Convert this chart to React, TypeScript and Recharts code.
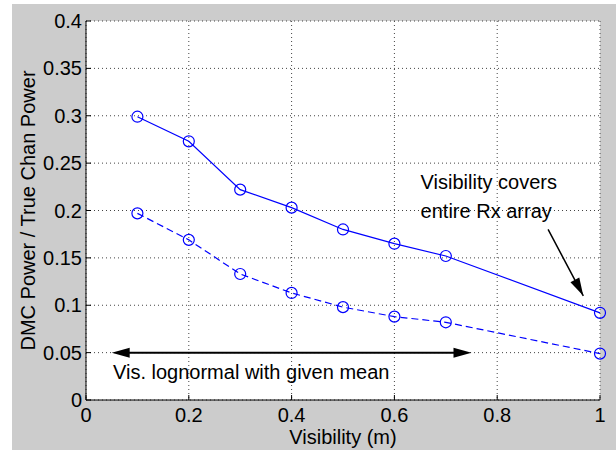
import React from 'react';
import {
  LineChart,
  Line,
  XAxis,
  YAxis,
  CartesianGrid,
  ReferenceLine,
  ReferenceDot
} from 'recharts';

// visibility (m)
const visibility = [0.1, 0.2, 0.3, 0.4, 0.5, 0.6, 0.7, 1.0];
// visibility covers the full Rx array (solid)
const fixedVisPower = [0.299, 0.273, 0.222, 0.203, 0.180, 0.165, 0.152, 0.092];
// visibility lognormal with given mean (dashed)
const lognormalVisPower = [0.197, 0.169, 0.133, 0.113, 0.098, 0.088, 0.082, 0.049];

const xTicks = [0, 0.2, 0.4, 0.6, 0.8, 1];
const yTicks = [0, 0.05, 0.1, 0.15, 0.2, 0.25, 0.3, 0.35, 0.4];

// annotations (data units)
const rangeArrow = [{ x: 0.05, y: 0.05 }, { x: 0.75, y: 0.05 }];
const rangeText = { x: 0.0525, y: 0.03, text: 'Vis. lognormal with given mean' };
const coverArrow = [{ x: 0.899, y: 0.18 }, { x: 0.9675, y: 0.11 }];
const coverText = [
  { x: 0.651, y: 0.2296, text: 'Visibility covers' },
  { x: 0.651, y: 0.1994, text: 'entire Rx array' }
];

const data = visibility.map((v, i) => ({
  v,
  fixed: fixedVisPower[i],
  lognormal: lognormalVisPower[i]
}));

const FONT = '"Liberation Sans", Arial, Helvetica, sans-serif';
const FS = 20;
const BLUE = '#0000ff';
const TICK = 5;

function Circle(props: any) {
  const { cx, cy } = props;
  if (cx == null || cy == null) return null;
  return <circle cx={cx} cy={cy} r={5.5} fill="none" stroke={BLUE} strokeWidth={1.2} />;
}

function LeftTick(props: any) {
  const { x, y, payload } = props;
  return (
    <g>
      <line x1={x} y1={y} x2={x + TICK} y2={y} stroke="#000" />
      <text x={x - 4} y={y} textAnchor="end" dominantBaseline="central"
        fontFamily={FONT} fontSize={FS} fill="#000">{String(payload.value)}</text>
    </g>
  );
}

function RightTick(props: any) {
  const { x, y } = props;
  return <line x1={x} y1={y} x2={x - TICK} y2={y} stroke="#000" />;
}

function BottomTick(props: any) {
  const { x, y, payload } = props;
  return (
    <g>
      <line x1={x} y1={y} x2={x} y2={y - TICK} stroke="#000" />
      <text x={x} y={y + 15} textAnchor="middle" dominantBaseline="central"
        fontFamily={FONT} fontSize={FS} fill="#000">{String(payload.value)}</text>
    </g>
  );
}

function TopTick(props: any) {
  const { x, y } = props;
  return <line x1={x} y1={y} x2={x} y2={y + TICK} stroke="#000" />;
}

function arrowHead(x1: number, y1: number, x2: number, y2: number, len: number, half: number) {
  const dx = x2 - x1;
  const dy = y2 - y1;
  const d = Math.sqrt(dx * dx + dy * dy) || 1;
  const ux = dx / d;
  const uy = dy / d;
  const bx = x2 - ux * len;
  const by = y2 - uy * len;
  return `${x2},${y2} ${bx - uy * half},${by + ux * half} ${bx + uy * half},${by - ux * half}`;
}

function DoubleArrow(props: any) {
  const { x1, y1, x2, y2 } = props;
  return (
    <g>
      <line x1={x1 + 8} y1={y1} x2={x2 - 8} y2={y2} stroke="#000" strokeWidth={2} />
      <polygon points={arrowHead(x2, y2, x1, y1, 18, 5)} fill="#000" />
      <polygon points={arrowHead(x1, y1, x2, y2, 18, 5)} fill="#000" />
    </g>
  );
}

function SingleArrow(props: any) {
  const { x1, y1, x2, y2 } = props;
  return (
    <g>
      <line x1={x1} y1={y1} x2={x2} y2={y2} stroke="#000" strokeWidth={1.5} />
      <polygon points={arrowHead(x1, y1, x2, y2, 18, 5)} fill="#000" />
    </g>
  );
}

function textShape(text: string) {
  return (props: any) => (
    <text x={props.cx} y={props.cy} textAnchor="start" dominantBaseline="central"
      fontFamily={FONT} fontSize={FS} fill="#000">{text}</text>
  );
}

export default function App() {
  return (
    <div style={{ position: 'absolute', left: 0, top: 0, width: 616, height: 452, background: '#fff' }}>
      <div style={{ position: 'absolute', left: 12, top: 4, width: 604, height: 446, background: '#cccccc' }} />
      <div style={{ position: 'absolute', left: 0, top: 0 }}>
        <LineChart width={616} height={452} data={data}
          margin={{ top: 21, right: 16, bottom: 22, left: 26 }}>
          <CartesianGrid stroke="#444" strokeDasharray="1 3" fill="#fff"
            verticalPoints={undefined} />
          <XAxis dataKey="v" type="number" domain={[0, 1]} ticks={xTicks}
            height={30} tickSize={0} tickMargin={0} tickLine={false}
            axisLine={{ stroke: '#000' }} tick={<BottomTick />}
            label={{
              content: (p: any) => (
                <text x={p.viewBox.x + p.viewBox.width / 2} y={p.viewBox.y + 37}
                  textAnchor="middle" dominantBaseline="central"
                  fontFamily={FONT} fontSize={FS} fill="#000">Visibility (m)</text>
              )
            }} />
          <XAxis xAxisId="top" orientation="top" type="number" domain={[0, 1]} ticks={xTicks}
            height={0} tickSize={0} tickMargin={0} tickLine={false}
            axisLine={{ stroke: '#000' }} tick={<TopTick />} />
          <YAxis type="number" domain={[0, 0.4]} ticks={yTicks} width={60}
            tickSize={0} tickMargin={0} tickLine={false}
            axisLine={{ stroke: '#000' }} tick={<LeftTick />}
            label={{
              content: (p: any) => {
                const cx = 28;
                const cy = p.viewBox.y + p.viewBox.height / 2;
                return (
                  <text x={cx} y={cy} textAnchor="middle" dominantBaseline="central"
                    transform={`rotate(-90 ${cx} ${cy})`}
                    fontFamily={FONT} fontSize={FS} fill="#000">DMC Power / True Chan Power</text>
                );
              }
            }} />
          <YAxis yAxisId="right" orientation="right" type="number" domain={[0, 0.4]} ticks={yTicks}
            width={0} tickSize={0} tickMargin={0} tickLine={false}
            axisLine={{ stroke: '#000' }} tick={<RightTick />} />
          <Line dataKey="fixed" stroke={BLUE} strokeWidth={1.2} dot={<Circle />}
            isAnimationActive={false} />
          <Line dataKey="lognormal" stroke={BLUE} strokeWidth={1.2} strokeDasharray="7 4"
            dot={<Circle />} isAnimationActive={false} />
          <ReferenceLine segment={rangeArrow} shape={<DoubleArrow />} ifOverflow="visible" />
          <ReferenceLine segment={coverArrow} shape={<SingleArrow />} ifOverflow="visible" />
          <ReferenceDot x={rangeText.x} y={rangeText.y} shape={textShape(rangeText.text)} ifOverflow="visible" />
          {coverText.map((t) => (
            <ReferenceDot key={t.text} x={t.x} y={t.y} shape={textShape(t.text)} ifOverflow="visible" />
          ))}
        </LineChart>
      </div>
    </div>
  );
}
